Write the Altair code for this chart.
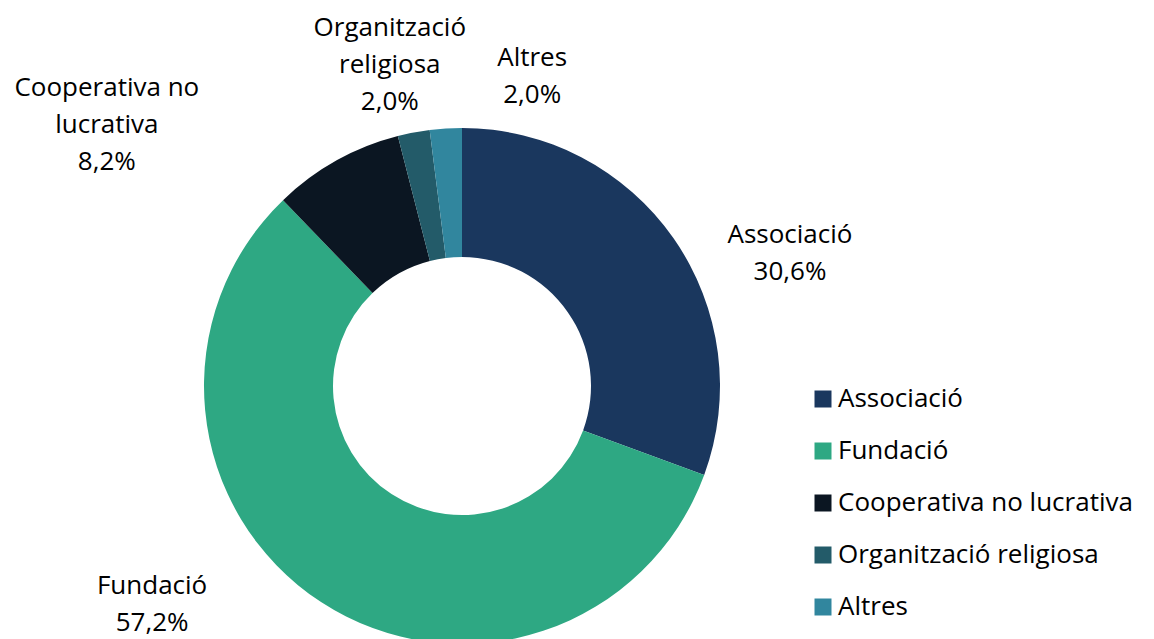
import altair as alt
import pandas as pd
import math

categories = ["Associació", "Fundació", "Cooperativa no lucrativa", "Organització religiosa", "Altres"]
values = [30.6, 57.2, 8.2, 2.0, 2.0]
colors = ["#1a375e", "#2ea883", "#0b1622", "#235b69", "#31869e"]
label_lines = [["Associació"], ["Fundació"], ["Cooperativa no", "lucrativa"], ["Organització", "religiosa"], ["Altres"]]

df = pd.DataFrame({"cat": categories, "value": values, "order": list(range(len(categories)))})
cum = df["value"].cumsum()
df["mid"] = cum - df["value"] / 2
df["label"] = [
    "\n".join(lines + [f"{v:.1f}".replace(".", ",") + "%"])
    for lines, v in zip(label_lines, values)
]

CX, CY = 454, 378
FONT = "Open Sans"
FS = 26
LH = 37

arcs = alt.Chart(df).mark_arc(outerRadius=258, innerRadius=129, strokeWidth=0).encode(
    theta=alt.Theta("value:Q", stack=True, scale=alt.Scale(domain=[0, 100], range=[0, 2 * math.pi])),
    order=alt.Order("order:Q"),
    color=alt.Color(
        "cat:N",
        scale=alt.Scale(domain=categories, range=colors),
        sort=categories,
        legend=alt.Legend(
            title=None, orient="none", legendX=802, legendY=378,
            symbolType="square", symbolSize=289, symbolStrokeWidth=0,
            labelFont=FONT, labelFontSize=FS, labelColor="#000000", labelLimit=0,
            rowPadding=26, labelOffset=2, symbolOffset=0,
        ),
    ),
    x=alt.value(CX),
    y=alt.value(CY),
)

offsets = {
    "Associació": (82, 39.5),
    "Fundació": (-146, -33),
    "Cooperativa no lucrativa": (-209, 1),
    "Organització religiosa": (-16, -26),
    "Altres": (89, -10.5),
}

layers = [arcs]
for c, lines in zip(categories, label_lines):
    dx, dy = offsets[c]
    nlines = len(lines) + 1
    dy = dy - (nlines - 1) * LH / 2
    t = alt.Chart(df).transform_filter(alt.datum.cat == c).mark_text(
        font=FONT, fontSize=FS, color="#000000", lineBreak="\n", lineHeight=LH,
        align="center", baseline="middle", dx=dx, dy=dy,
    ).encode(
        theta=alt.Theta("mid:Q", stack=None, scale=alt.Scale(domain=[0, 100], range=[0, 2 * math.pi])),
        radius=alt.value(300),
        text="label:N",
        x=alt.value(CX),
        y=alt.value(CY),
    )
    layers.append(t)

chart = alt.layer(*layers).resolve_scale(theta="independent").properties(
    width=1138, height=631, autosize=alt.AutoSizeParams(type="none"), padding=0,
).configure_view(strokeWidth=0, stroke="transparent")

chart.save("out.html", embed_options={"renderer": "svg", "actions": False})
